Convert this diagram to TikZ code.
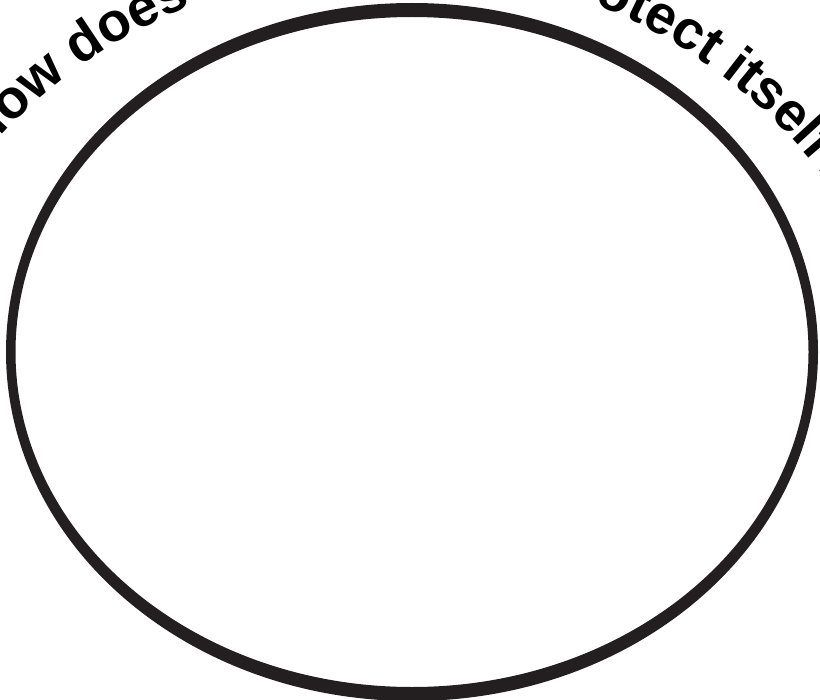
\documentclass[tikz,border=0pt]{standalone}
\usepackage{fontspec}
\setmainfont{Liberation Sans}
\usetikzlibrary{decorations.text}
\definecolor{ink}{RGB}{35,31,32}
\tikzset{
  ringfill/.style={fill=ink, even odd rule},
  arctext/.style={decorate, decoration={text along path,
      text={|\fontsize{55}{55}\selectfont\bfseries|How does an organism protect itself?}}}
}
\begin{document}
\begin{tikzpicture}[x=1bp,y=-1bp]
\useasboundingbox (0,0) rectangle (820,700);
\clip (0,0) rectangle (820,700);
\coordinate (c) at (412,352);
\coordinate (tc) at (395,509);
\fill[ringfill] (c) ellipse[x radius=406, y radius=349] (c) ellipse[x radius=396.5, y radius=335];
\path[arctext] ([shift={(-139.3:543)}]tc) arc[start angle=-139.3, end angle=-20, radius=543];
\end{tikzpicture}
\end{document}
